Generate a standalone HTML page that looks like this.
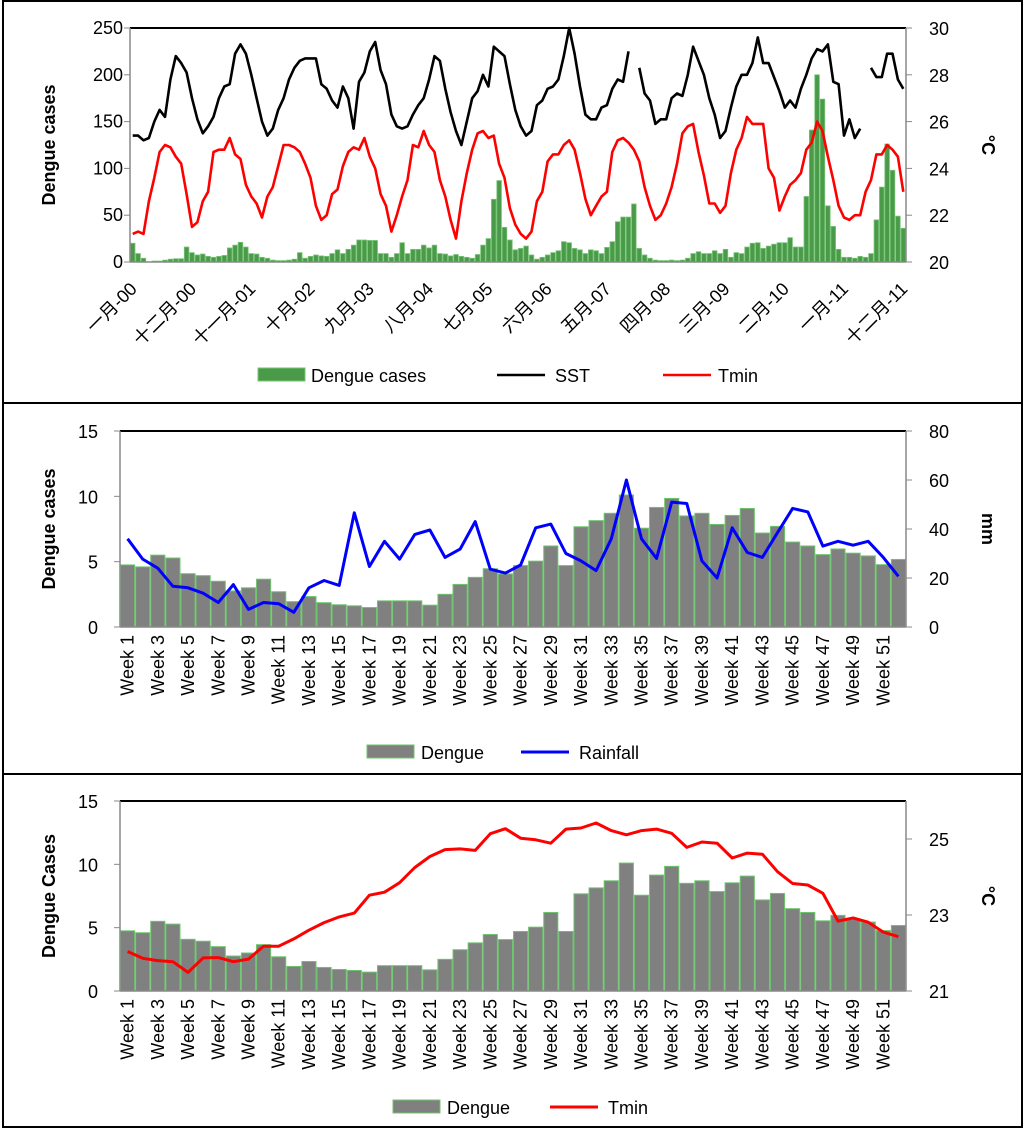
<!DOCTYPE html>
<html><head><meta charset="utf-8">
<style>
html,body{margin:0;padding:0;background:#fff;}
svg{display:block;font-family:"Liberation Sans","Noto Sans CJK SC",sans-serif;}
.t{font-size:18px;fill:#000;}
.b{font-size:18px;font-weight:bold;fill:#000;}
</style></head>
<body>
<svg id="s" width="1024" height="1129" viewBox="0 0 1024 1129">
<rect x="3" y="1" width="1019" height="1126" fill="none" stroke="#000" stroke-width="2"/>
<line x1="3" y1="403" x2="1022" y2="403" stroke="#000" stroke-width="2"/>
<line x1="3" y1="774" x2="1022" y2="774" stroke="#000" stroke-width="2"/>
</svg>
<script>
// ---------- Panel 1 data (monthly 2000-2011) ----------
const monthDengue=[20,9,4,0,1,1,2,3,3.5,3.5,16,10,
7.5,8.5,6,5,6,7,15,18,21,16,9,8.5,
5,4,2,1.5,1.5,2,3,10,4,6,7.5,6.5,
6,9,13,9,13.5,18,23.5,23.5,23,23,9,9,
5,9,20.6,9,13.5,13.5,18,15,18,9,8.5,6.5,8,6,5,
4,8,18,25,67,87,37,23.5,13,
14.5,17,7.5,3,5,7.5,10,12,21.7,20.6,14.5,13,9,13,12,9,15.6,21.7,43,48,48,62,14.5,7.5,4,2,1.5,1.5,2,1.5,2,
4,9,11,9,9,12,9,13.5,5,10,9,16,20,20.6,14.5,17,19,20.6,20.6,26,16,16,70,141,200,174,60,38,13.5,5,5,4,6,
5,9,45,80,126,98,49,36];
const monthSST=[25.4,25.4,25.2,25.3,26.0,26.5,26.2,27.8,28.8,28.5,28.1,27.0,
26.1,25.5,25.8,26.2,27.0,27.5,27.6,28.9,29.3,28.9,28.0,27.0,
26.0,25.4,25.7,26.5,27.0,27.8,28.3,28.6,28.7,28.7,28.7,27.6,
27.4,26.9,26.6,27.5,27.0,25.7,27.7,28.1,29.0,29.4,28.2,27.6,
26.3,25.8,25.7,25.8,26.3,26.7,27.0,27.8,28.8,28.6,27.4,26.4,
25.6,25.0,26.0,27.0,27.3,28.0,27.5,29.2,29.0,28.8,27.6,26.5,
25.8,25.4,25.6,26.7,26.9,27.4,27.5,27.8,28.8,30.0,28.9,27.5,
26.3,26.1,26.1,26.6,26.7,27.4,27.8,27.7,29.0,null,28.3,27.2,
26.9,25.9,26.1,26.1,27.0,27.2,27.1,28.0,29.2,28.6,28.0,27.0,
26.3,25.3,25.6,26.6,27.5,28.0,28.0,28.5,29.6,28.5,28.5,27.9,
27.3,26.6,26.9,26.6,27.4,28.0,28.7,29.1,29.0,29.3,27.7,27.6,
25.4,26.1,25.3,25.7,null,28.3,27.9,27.9,28.9,28.9,27.8,27.4];
const monthTmin=[21.2,21.3,21.2,22.6,23.6,24.7,25.0,24.9,24.5,24.2,22.9,21.5,
21.7,22.6,23.0,24.7,24.8,24.8,25.3,24.6,24.4,23.3,22.8,22.5,
21.9,22.8,23.2,24.1,25.0,25.0,24.9,24.7,24.2,23.6,22.4,21.8,
22.0,22.9,23.1,24.1,24.7,24.9,24.8,25.3,24.5,24.0,22.9,22.4,
21.3,22.0,22.8,23.5,25.0,24.9,25.6,25.0,24.7,23.5,22.8,21.8,
21.0,22.6,23.8,24.8,25.5,25.6,25.3,25.4,24.2,23.6,22.3,21.6,
21.2,21.0,21.3,22.6,23.0,24.3,24.6,24.6,25.0,25.2,24.8,23.8,
22.7,22.0,22.4,22.8,23.0,24.7,25.2,25.3,25.1,24.8,24.3,23.2,
22.4,21.8,22.0,22.5,23.2,24.2,25.5,25.8,25.9,24.7,23.7,22.5,
22.5,22.1,22.4,23.8,24.8,25.3,26.2,25.9,25.9,25.9,24.0,23.6,
22.2,22.8,23.3,23.5,23.8,24.8,25.1,26.0,25.6,24.5,23.5,22.4,
21.9,21.8,22.0,22.0,23.0,23.5,24.6,24.6,25.0,24.8,24.5,23.0];
const monthLabels=["一月-00","十二月-00","十一月-01","十月-02","九月-03","八月-04","七月-05","六月-06","五月-07","四月-08","三月-09","二月-10","一月-11","十二月-11"];
const leftTicks1=[0,50,100,150,200,250];
const rightTicks1=[20,22,24,26,28,30];

// ---------- Panels 2 & 3 data (weekly) ----------
const weekDengue=[4.75,4.6,5.5,5.28,4.08,3.93,3.5,2.76,3.0,3.66,2.7,1.94,2.33,1.86,1.7,1.62,1.49,2.0,2.0,2.0,1.67,2.5,3.26,3.8,4.46,4.06,4.7,5.04,6.2,4.7,7.67,8.14,8.7,10.1,7.56,9.15,9.84,8.5,8.7,7.85,8.54,9.07,7.19,7.7,6.5,6.2,5.54,5.97,5.65,5.44,4.77,5.17];
const weekRain=[36,27.7,24,16.6,16,13.8,10,17.3,7.2,10,9.5,6,16,19,17,46.6,24.7,35,27.7,37.8,39.6,28.4,31.8,43,23.6,22,25.3,40.5,42,30,27,23,36,60,36,28,51,50.4,27,20,40.5,30.4,28.4,38.5,48.4,47,33,35,33.4,35,28.4,20.7];
const weekTmin=[22.04,21.86,21.8,21.77,21.49,21.87,21.88,21.77,21.84,22.18,22.18,22.37,22.6,22.8,22.95,23.05,23.52,23.6,23.85,24.25,24.54,24.72,24.74,24.7,25.14,25.27,25.02,24.98,24.89,25.26,25.29,25.42,25.22,25.11,25.22,25.26,25.15,24.78,24.92,24.89,24.5,24.63,24.6,24.14,23.83,23.79,23.57,22.84,22.92,22.81,22.55,22.43];
const denTicks=[0,5,10,15];
const rainTicks=[0,20,40,60,80];
const tminTicks=[21,23,25];

const NS="http://www.w3.org/2000/svg";
const svg=document.getElementById('s');
function mk(tag,attrs,parent){const e=document.createElementNS(NS,tag);for(const k in attrs)e.setAttribute(k,attrs[k]);(parent||svg).appendChild(e);return e;}
function txt(x,y,s,cls,anchor,parent,rot){const e=mk('text',{x:x,y:y,class:cls,'text-anchor':anchor||'start'},parent);if(rot!==undefined)e.setAttribute('transform','rotate('+rot+' '+x+' '+y+')');e.textContent=s;return e;}
function scale(d0,d1,r0,r1){return v=>r0+(v-d0)/(d1-d0)*(r1-r0);}

function frame(g,L,R,T,B){
  mk('line',{x1:L,y1:T,x2:R,y2:T,stroke:'#000','stroke-width':2},g);
  mk('line',{x1:L,y1:T,x2:L,y2:B,stroke:'#888','stroke-width':1.5},g);
  mk('line',{x1:R,y1:T,x2:R,y2:B,stroke:'#888','stroke-width':1.5},g);
  mk('line',{x1:L,y1:B,x2:R,y2:B,stroke:'#888','stroke-width':1.5},g);
}
function polyline(g,xs,vals,y,color,w,name){
  let d='',pen=false;
  vals.forEach((v,i)=>{if(v===null){pen=false;return;}d+=(pen?'L':'M')+xs(i).toFixed(1)+' '+y(v).toFixed(1)+' ';pen=true;});
  const p=mk('path',{d:d,fill:'none',stroke:color,'stroke-width':w,'stroke-linejoin':'round'},g);
  
  
}

// ===== Panel 1 =====
(function(){
  const g=mk('g',{});
  
  
  const L=130,R=906,T=28,B=262,bw=(R-L)/144;
  const y=scale(0,250,B,T), y2=scale(20,30,B,T), xc=i=>L+(i+0.5)*bw;
  monthDengue.forEach((v,i)=>{
    const r=mk('rect',{x:L+i*bw+0.4,y:y(v),width:bw-0.8,height:B-y(v),fill:'#4a9a4a',stroke:'#76c576','stroke-width':0.8},g);
    
    
  });
  polyline(g,xc,monthSST,y2,'#000',2.6,'sst-line');
  polyline(g,xc,monthTmin,y2,'#f00',2.6,'tmin-line');
  frame(g,L,R,T,B);
  leftTicks1.forEach(v=>{mk('line',{x1:L-6,y1:y(v),x2:L,y2:y(v),stroke:'#888'},g);const t=txt(L-7,y(v)+6,String(v),'t','end',g);});
  rightTicks1.forEach(v=>{mk('line',{x1:R,y1:y2(v),x2:R+6,y2:y2(v),stroke:'#888'},g);const t=txt(929,y2(v)+7,String(v),'t','start',g);});
  monthLabels.forEach((s,k)=>{const x=L+(k*11)*bw+8,yy=290;const t=txt(x,yy,s,'t','end',g,-45);});
  const a=txt(55,145,'Dengue cases','b','middle',g,-90);
  const c=txt(982,145,'°C','b','middle',g,90);
  const l1=mk('rect',{x:258,y:368,width:47,height:13,fill:'#4a9a4a',stroke:'#76c576'},g);
  txt(311,382,'Dengue cases','t','start',g);
  mk('line',{x1:497,y1:375,x2:545,y2:375,stroke:'#000','stroke-width':2.6},g);
  txt(555,382,'SST','t','start',g);
  mk('line',{x1:663,y1:375,x2:711,y2:375,stroke:'#f00','stroke-width':2.6},g);
  txt(718,382,'Tmin','t','start',g);
})();

// ===== Weekly panels =====
function weekly(T,B,lineVals,ly0,ly1,lticks,color,lname,ytitle,rtitle,legY,legX,lineLegX){
  const g=mk('g',{});
  
  
  const L=120,R=906,n=weekDengue.length,bw=(R-L)/n;
  const y=scale(0,15,B,T), y2=scale(ly0,ly1,B,T), xc=i=>L+(i+0.5)*bw;
  weekDengue.forEach((v,i)=>{
    const r=mk('rect',{x:L+i*bw+0.5,y:y(v),width:bw-1,height:B-y(v),fill:'#808080',stroke:'#6cc46c','stroke-width':1},g);
    
    
  });
  polyline(g,xc,lineVals,y2,color,3,lname+'-line');
  frame(g,L,R,T,B);
  denTicks.forEach(v=>{mk('line',{x1:L-6,y1:y(v),x2:L,y2:y(v),stroke:'#888'},g);const t=txt(98,y(v)+7,String(v),'t','end',g);});
  lticks.forEach(v=>{mk('line',{x1:R,y1:y2(v),x2:R+6,y2:y2(v),stroke:'#888'},g);const t=txt(929,y2(v)+7,String(v),'t','start',g);});
  for(let i=0;i<n;i+=2){const x=xc(i)+6,yy=B+8;const t=txt(x,yy,'Week '+(i+1),'t','end',g,-90);}
  const a=txt(55,(T+B)/2,ytitle,'b','middle',g,-90);
  const c=txt(982,(T+B)/2,rtitle,'b','middle',g,90);
  const l1=mk('rect',{x:legX,y:legY-7,width:47,height:13,fill:'#808080',stroke:'#6cc46c'},g);
  txt(legX+54,legY+7,'Dengue','t','start',g);
  mk('line',{x1:lineLegX,y1:legY,x2:lineLegX+48,y2:legY,stroke:color,'stroke-width':3},g);
  txt(lineLegX+58,legY+7,lname==='rainfall'?'Rainfall':'Tmin','t','start',g);
}
weekly(431,627,weekRain,0,80,rainTicks,'#00f','rainfall','Dengue cases','mm',752,367,521);
weekly(801,991,weekTmin,21,26,tminTicks,'#f00','tmin','Dengue Cases','°C',1107,393,550);
</script>
</body></html>
